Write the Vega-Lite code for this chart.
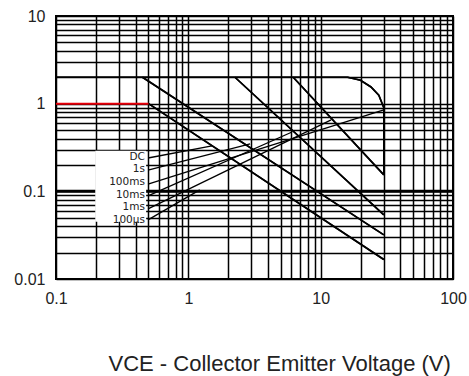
{
  "$schema": "https://vega.github.io/schema/vega-lite/v6.json",
  "autosize": {"type": "none"},
  "padding": {"left": 56, "top": 16, "right": 16, "bottom": 97},
  "width": 397,
  "height": 263,
  "config": {"view": {"stroke": "#000", "strokeWidth": 2}, "font": "Liberation Sans"},
  "datasets": {
    "hline": [{"y": 0.1}],
    "box": [{"x": 0.198, "x2": 0.48, "y": 0.29, "y2": 0.045}],
    "red": [{"x": 0.1, "y": 1}, {"x": 0.5, "y": 1}],
    "curves": [
      {"s": "DC", "o": 1, "x": 0.5, "y": 1},
      {"s": "DC", "o": 2, "x": 30, "y": 0.0167},
      {"s": "1s", "o": 1, "x": 0.45, "y": 2},
      {"s": "1s", "o": 2, "x": 30, "y": 0.0318},
      {"s": "10ms", "o": 1, "x": 2.25, "y": 2},
      {"s": "10ms", "o": 2, "x": 30, "y": 0.054},
      {"s": "1ms", "o": 1, "x": 6.2, "y": 2},
      {"s": "1ms", "o": 2, "x": 30, "y": 0.154},
      {"s": "100us", "o": 1, "x": 0.1, "y": 2},
      {"s": "100us", "o": 2, "x": 16, "y": 2},
      {"s": "100us", "o": 3, "x": 20, "y": 1.85},
      {"s": "100us", "o": 4, "x": 24, "y": 1.55},
      {"s": "100us", "o": 5, "x": 27.5, "y": 1.25},
      {"s": "100us", "o": 6, "x": 30, "y": 0.9},
      {"s": "100us", "o": 7, "x": 30, "y": 0.154}
    ],
    "leaders": [
      {"s": "DC", "o": 1, "x": 0.496, "y": 0.24},
      {"s": "DC", "o": 2, "x": 1.51, "y": 0.33},
      {"s": "1s", "o": 1, "x": 0.496, "y": 0.175},
      {"s": "1s", "o": 2, "x": 2.93, "y": 0.347},
      {"s": "100ms", "o": 1, "x": 0.496, "y": 0.121},
      {"s": "100ms", "o": 2, "x": 30, "y": 0.848},
      {"s": "10ms", "o": 1, "x": 0.496, "y": 0.0887},
      {"s": "10ms", "o": 2, "x": 6.08, "y": 0.475},
      {"s": "1ms", "o": 1, "x": 0.496, "y": 0.063},
      {"s": "1ms", "o": 2, "x": 12, "y": 0.652},
      {"s": "100us", "o": 1, "x": 0.496, "y": 0.0472},
      {"s": "100us", "o": 2, "x": 1.22, "y": 0.104}
    ],
    "labels": [
      {"t": "DC", "x": 0.47, "y": 0.247},
      {"t": "1s", "x": 0.47, "y": 0.18},
      {"t": "100ms", "x": 0.47, "y": 0.128},
      {"t": "10ms", "x": 0.47, "y": 0.091},
      {"t": "1ms", "x": 0.47, "y": 0.0664},
      {"t": "100µs", "x": 0.47, "y": 0.0465}
    ]
  },
  "layer": [
    {
      "data": {"name": "curves"},
      "mark": {"type": "line", "color": "#000", "strokeWidth": 1.6},
      "encoding": {
        "x": {
          "field": "x", "type": "quantitative",
          "scale": {"type": "log", "domain": [0.1, 100], "nice": false},
          "axis": {
            "values": [0.1, 0.2, 0.3, 0.4, 0.5, 0.6, 0.7, 0.8, 0.9, 1, 2, 3, 4, 5, 6, 7, 8, 9, 10, 20, 30, 40, 50, 60, 70, 80, 90, 100],
            "labelExpr": "datum.value == 0.1 ? '0.1' : datum.value == 1 ? '1' : datum.value == 10 ? '10' : datum.value == 100 ? '100' : ''",
            "grid": true, "gridColor": "#000", "gridWidth": 1.5, "gridOpacity": 1,
            "ticks": false, "domain": false, "labelOverlap": false, "labelFlush": false,
            "labelFontSize": 16, "labelColor": "#222", "labelPadding": 11,
            "title": "VCE - Collector Emitter Voltage (V)",
            "titleFontSize": 22, "titleFontWeight": "normal", "titleColor": "#222",
            "titleAnchor": "start", "titleAlign": "left", "titleX": 52, "titleY": 91, "titleBaseline": "alphabetic"
          }
        },
        "y": {
          "field": "y", "type": "quantitative",
          "scale": {"type": "log", "domain": [0.01, 10], "nice": false},
          "axis": {
            "values": [0.01, 0.02, 0.03, 0.04, 0.05, 0.06, 0.07, 0.08, 0.09, 0.1, 0.2, 0.3, 0.4, 0.5, 0.6, 0.7, 0.8, 0.9, 1, 2, 3, 4, 5, 6, 7, 8, 9, 10],
            "labelExpr": "datum.value == 0.01 ? '0.01' : datum.value == 0.1 ? '0.1' : datum.value == 1 ? '1' : datum.value == 10 ? '10' : ''",
            "grid": true, "gridColor": "#000", "gridWidth": 1.5, "gridOpacity": 1,
            "ticks": false, "domain": false, "labelOverlap": false, "labelFlush": false,
            "labelFontSize": 16, "labelColor": "#222", "labelPadding": 11,
            "title": null
          }
        },
        "detail": {"field": "s"},
        "order": {"field": "o"}
      }
    },
    {
      "data": {"name": "hline"},
      "mark": {"type": "rule", "color": "#000", "strokeWidth": 3},
      "encoding": {
        "y": {"field": "y", "type": "quantitative", "scale": {"type": "log", "domain": [0.01, 10], "nice": false}}
      }
    },
    {
      "data": {"name": "box"},
      "mark": {"type": "rect", "color": "#fff"},
      "encoding": {
        "x": {"field": "x", "type": "quantitative", "scale": {"type": "log", "domain": [0.1, 100], "nice": false}},
        "x2": {"field": "x2"},
        "y": {"field": "y", "type": "quantitative", "scale": {"type": "log", "domain": [0.01, 10], "nice": false}},
        "y2": {"field": "y2"}
      }
    },
    {
      "data": {"name": "curves"},
      "mark": {"type": "line", "color": "#000", "strokeWidth": 1.6},
      "encoding": {
        "x": {"field": "x", "type": "quantitative", "scale": {"type": "log", "domain": [0.1, 100], "nice": false}},
        "y": {"field": "y", "type": "quantitative", "scale": {"type": "log", "domain": [0.01, 10], "nice": false}},
        "detail": {"field": "s"},
        "order": {"field": "o"}
      }
    },
    {
      "data": {"name": "leaders"},
      "mark": {"type": "line", "color": "#000", "strokeWidth": 1.3},
      "encoding": {
        "x": {"field": "x", "type": "quantitative", "scale": {"type": "log", "domain": [0.1, 100], "nice": false}},
        "y": {"field": "y", "type": "quantitative", "scale": {"type": "log", "domain": [0.01, 10], "nice": false}},
        "detail": {"field": "s"},
        "order": {"field": "o"}
      }
    },
    {
      "data": {"name": "red"},
      "mark": {"type": "line", "color": "#e8000b", "strokeWidth": 2},
      "encoding": {
        "x": {"field": "x", "type": "quantitative", "scale": {"type": "log", "domain": [0.1, 100], "nice": false}},
        "y": {"field": "y", "type": "quantitative", "scale": {"type": "log", "domain": [0.01, 10], "nice": false}}
      }
    },
    {
      "data": {"name": "labels"},
      "mark": {"type": "text", "align": "right", "baseline": "middle", "font": "DejaVu Sans", "fontSize": 10.5, "color": "#222"},
      "encoding": {
        "x": {"field": "x", "type": "quantitative", "scale": {"type": "log", "domain": [0.1, 100], "nice": false}},
        "y": {"field": "y", "type": "quantitative", "scale": {"type": "log", "domain": [0.01, 10], "nice": false}},
        "text": {"field": "t"}
      }
    }
  ]
}
